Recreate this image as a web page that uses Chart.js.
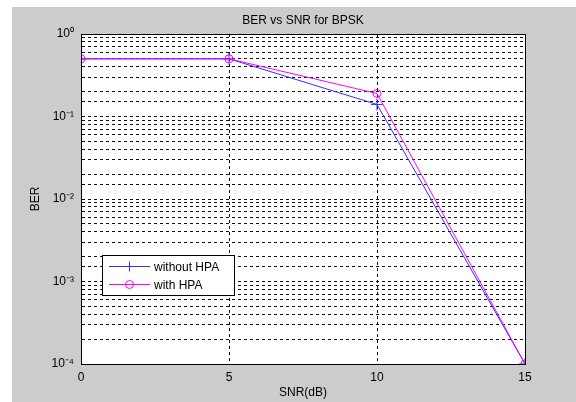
<!DOCTYPE html>
<html>
<head>
<meta charset="utf-8">
<script src="https://cdn.jsdelivr.net/npm/chart.js@4"></script>
<style>
  body { margin: 0; background: #fff; }
  canvas { display: block; }
</style>
</head>
<body>
<canvas id="berChart" width="576" height="402"></canvas>
<script>
        // data
        var snr = [0, 5, 10, 15];
        var berWithoutHPA = [0.5, 0.5, 0.14, 0.0001];
        var berWithHPA = [0.5, 0.5, 0.19, 0.0001];
        var seriesNames = ['without HPA', 'with HPA'];
        var chartTitle = 'BER vs SNR for BPSK';
        var xTicks = [0, 5, 10, 15];
        var yDecades = [1, 0.1, 0.01, 0.001, 0.0001];
        var yDecadeLabels = ['10\u2070', '10\u207B\u00B9', '10\u207B\u00B2', '10\u207B\u00B3', '10\u207B\u2074'];

        var fontFamily = '"Liberation Sans", Arial, sans-serif';

        // grey figure background, white axes box, title over the axes
        var figureBg = {
            id: 'figureBg',
            beforeDraw: function (chart) {
                var c = chart.ctx, a = chart.chartArea;
                c.save();
                c.fillStyle = '#fff';
                c.fillRect(0, 0, chart.width, chart.height);
                c.fillStyle = '#cccccc';
                c.fillRect(12, 7, chart.width - 12, chart.height - 7);
                c.fillStyle = '#fff';
                c.fillRect(a.left, a.top, a.right - a.left, a.bottom - a.top);
                c.restore();
            },
            afterDatasetsDraw: function (chart) {
                var c = chart.ctx, a = chart.chartArea;
                c.save();
                c.strokeStyle = '#000';
                c.lineWidth = 1;
                c.strokeRect(Math.round(a.left) + 0.5, Math.round(a.top) + 0.5,
                    Math.round(a.right - a.left), Math.round(a.bottom - a.top));
                c.fillStyle = '#000';
                c.font = '12px ' + fontFamily;
                c.textAlign = 'center';
                c.textBaseline = 'middle';
                c.fillText(chartTitle, (a.left + a.right) / 2, 21);
                c.restore();
            }
        };

        // MATLAB style legend box in the lower left of the axes
        var boxLegend = {
            id: 'boxLegend',
            afterDraw: function (chart) {
                var c = chart.ctx;
                var x = 102, y = 255, w = 132, h = 40;
                c.save();
                c.fillStyle = '#fff';
                c.fillRect(x, y, w, h);
                c.strokeStyle = '#000';
                c.lineWidth = 1;
                c.strokeRect(x + 0.5, y + 0.5, w, h);
                c.font = '12px ' + fontFamily;
                c.textBaseline = 'middle';
                chart.data.datasets.slice().sort(function (p, q) { return p.legendIndex - q.legendIndex; })
                    .forEach(function (ds, i) {
                        var ry = y + 11.5 + i * 18;
                        c.strokeStyle = ds.borderColor;
                        c.beginPath();
                        c.moveTo(x + 7, ry);
                        c.lineTo(x + 48, ry);
                        c.stroke();
                        var mx = x + 27.5;
                        c.beginPath();
                        if (ds.pointStyle === 'cross') {
                            c.moveTo(mx, ry - 5); c.lineTo(mx, ry + 5);
                            c.moveTo(mx - 5, ry); c.lineTo(mx + 5, ry);
                        } else {
                            c.arc(mx, ry, 4, 0, Math.PI * 2);
                        }
                        c.stroke();
                        c.fillStyle = '#000';
                        c.fillText(ds.label, x + 52, ry + 1);
                    });
                c.restore();
            }
        };

        var ctx = document.getElementById('berChart').getContext('2d');
        var berChart = new Chart(ctx, {
            type: 'line',
            data: {
                datasets: [{
                    label: seriesNames[0],
                    legendIndex: 0,
                    data: snr.map(function (s, i) { return { x: s, y: berWithoutHPA[i] }; }),
                    borderColor: '#3030ff',
                    borderWidth: 1,
                    pointStyle: 'cross',
                    pointRadius: 6,
                    pointBorderColor: '#3030ff',
                    pointBorderWidth: 1,
                    fill: false,
                    tension: 0,
                    order: 1
                }, {
                    label: seriesNames[1],
                    legendIndex: 1,
                    data: snr.map(function (s, i) { return { x: s, y: berWithHPA[i] }; }),
                    borderColor: '#ff00ff',
                    borderWidth: 1,
                    pointStyle: 'circle',
                    pointRadius: 4,
                    pointBorderColor: '#ff00ff',
                    pointBackgroundColor: 'rgba(0,0,0,0)',
                    pointBorderWidth: 1,
                    fill: false,
                    tension: 0,
                    order: 0
                }]
            },
            options: {
                responsive: false,
                animation: false,
                events: [],
                layout: { padding: { left: 0, right: 51, top: 34, bottom: 0 } },
                plugins: {
                    legend: { display: false },
                    tooltip: { enabled: false },
                    title: { display: false }
                },
                scales: {
                    x: {
                        type: 'linear',
                        min: 0,
                        max: 15,
                        afterBuildTicks: function (scale) {
                            scale.ticks = xTicks.map(function (v) { return { value: v }; });
                        },
                        afterFit: function (scale) { scale.height = 38; },
                        grid: {
                            color: '#111',
                            lineWidth: 1,
                            tickLength: 0,
                            drawTicks: false,
                            borderDash: [3, 3]
                        },
                        border: { display: true, color: 'rgba(0,0,0,0)', dash: [3, 3] },
                        ticks: {
                            color: '#000',
                            padding: 6,
                            maxRotation: 0,
                            font: { family: fontFamily, size: 12 }
                        },
                        title: {
                            display: true,
                            text: 'SNR(dB)',
                            color: '#000',
                            font: { family: fontFamily, size: 12 },
                            padding: { top: 0, bottom: 2 }
                        }
                    },
                    y: {
                        type: 'logarithmic',
                        min: 0.0001,
                        max: 1,
                        afterFit: function (scale) { scale.width = 81; },
                        grid: {
                            color: '#111',
                            lineWidth: 1,
                            tickLength: 0,
                            drawTicks: false,
                            borderDash: [3, 3]
                        },
                        border: { display: true, color: 'rgba(0,0,0,0)', dash: [3, 3] },
                        ticks: {
                            color: '#000',
                            padding: 7,
                            autoSkip: false,
                            font: { family: fontFamily, size: 12 },
                            callback: function (v) {
                                for (var i = 0; i < yDecades.length; i++) {
                                    if (Math.abs(Math.log10(v) - Math.log10(yDecades[i])) < 1e-6) return yDecadeLabels[i];
                                }
                                return '';
                            }
                        },
                        title: {
                            display: true,
                            text: 'BER',
                            color: '#000',
                            font: { family: fontFamily, size: 12 },
                            padding: { top: 28, bottom: 0 }
                        }
                    }
                }
            },
            plugins: [figureBg, boxLegend]
        });
</script>
</body>
</html>
